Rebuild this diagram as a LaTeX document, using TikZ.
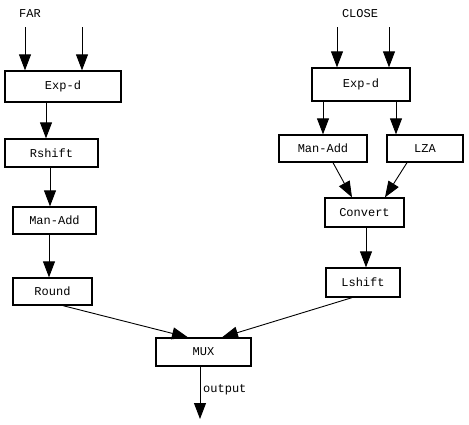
\documentclass[tikz,border=0pt]{standalone}
\usepackage{fontspec}
\setmonofont{Liberation Mono}
\usetikzlibrary{arrows.meta}
\begin{document}
\begin{tikzpicture}[x=1pt,y=-1pt,
  box/.style={draw=black,line width=1.3pt,fill=white,inner sep=0pt,font=\ttfamily\fontsize{12}{13}\selectfont},
  conn/.style={line width=0.9pt,-{Triangle[length=16pt,width=12pt]}},
  lbl/.style={font=\ttfamily\fontsize{12}{13}\selectfont,inner sep=0pt}]
\useasboundingbox (0,0) rectangle (469,424);
% left chain
\node[box,minimum width=116pt,minimum height=31pt] (expL) at (63,86.5) {Exp-d};
\node[box,minimum width=93pt,minimum height=28pt] (rsh) at (51.5,153) {Rshift};
\node[box,minimum width=83pt,minimum height=27pt] (maL) at (54.5,220.5) {Man-Add};
\node[box,minimum width=79pt,minimum height=27pt] (rnd) at (52.5,291.5) {Round};
% right chain
\node[box,minimum width=98pt,minimum height=33pt] (expR) at (361,84.5) {Exp-d};
\node[box,minimum width=88pt,minimum height=27pt] (maR) at (323,148.5) {Man-Add};
\node[box,minimum width=76pt,minimum height=27pt] (lza) at (425,148.5) {LZA};
\node[box,minimum width=79pt,minimum height=29pt] (conv) at (364.5,212.5) {Convert};
\node[box,minimum width=74pt,minimum height=29pt] (lsh) at (363,282.5) {Lshift};
% mux
\node[box,minimum width=95pt,minimum height=28pt] (mux) at (203.5,352) {MUX};
% labels
\node[lbl] (far) at (30,14) {FAR};
\node[lbl] (close) at (360,14) {CLOSE};
\node[lbl,anchor=west] (out) at (203,390) {output};
% inputs
\coordinate (fa) at (25,27);
\coordinate (fb) at (82,27);
\coordinate (ca) at (337,27);
\coordinate (cb) at (389,27);
\coordinate (oe) at (200,419);
\draw[conn] (fa) -- (fa |- expL.north);
\draw[conn] (fb) -- (fb |- expL.north);
\draw[conn] (ca) -- (ca |- expR.north);
\draw[conn] (cb) -- (cb |- expR.north);
% left arrows
\draw[conn] (expL.south -| 46,0) -- (rsh.north -| 46,0);
\draw[conn] (rsh.south -| 50,0) -- (maL.north -| 50,0);
\draw[conn] (maL.south -| 49,0) -- (rnd.north -| 49,0);
% right arrows
\draw[conn] (expR.south -| 323,0) -- (maR.north -| 323,0);
\draw[conn] (expR.south -| 396,0) -- (lza.north -| 396,0);
\draw[conn] (maR.south -| 333,0) -- (conv.north -| 352,0);
\draw[conn] (lza.south -| 407,0) -- (conv.north -| 385,0);
\draw[conn] (conv.south -| 366,0) -- (lsh.north -| 366,0);
% to mux
\draw[conn] (rnd.south -| 63,0) -- (mux.north -| 188,0);
\draw[conn] (lsh.south -| 352,0) -- (mux.north -| 222,0);
\draw[conn] (mux.south -| 200,0) -- (oe);
\end{tikzpicture}
\end{document}
